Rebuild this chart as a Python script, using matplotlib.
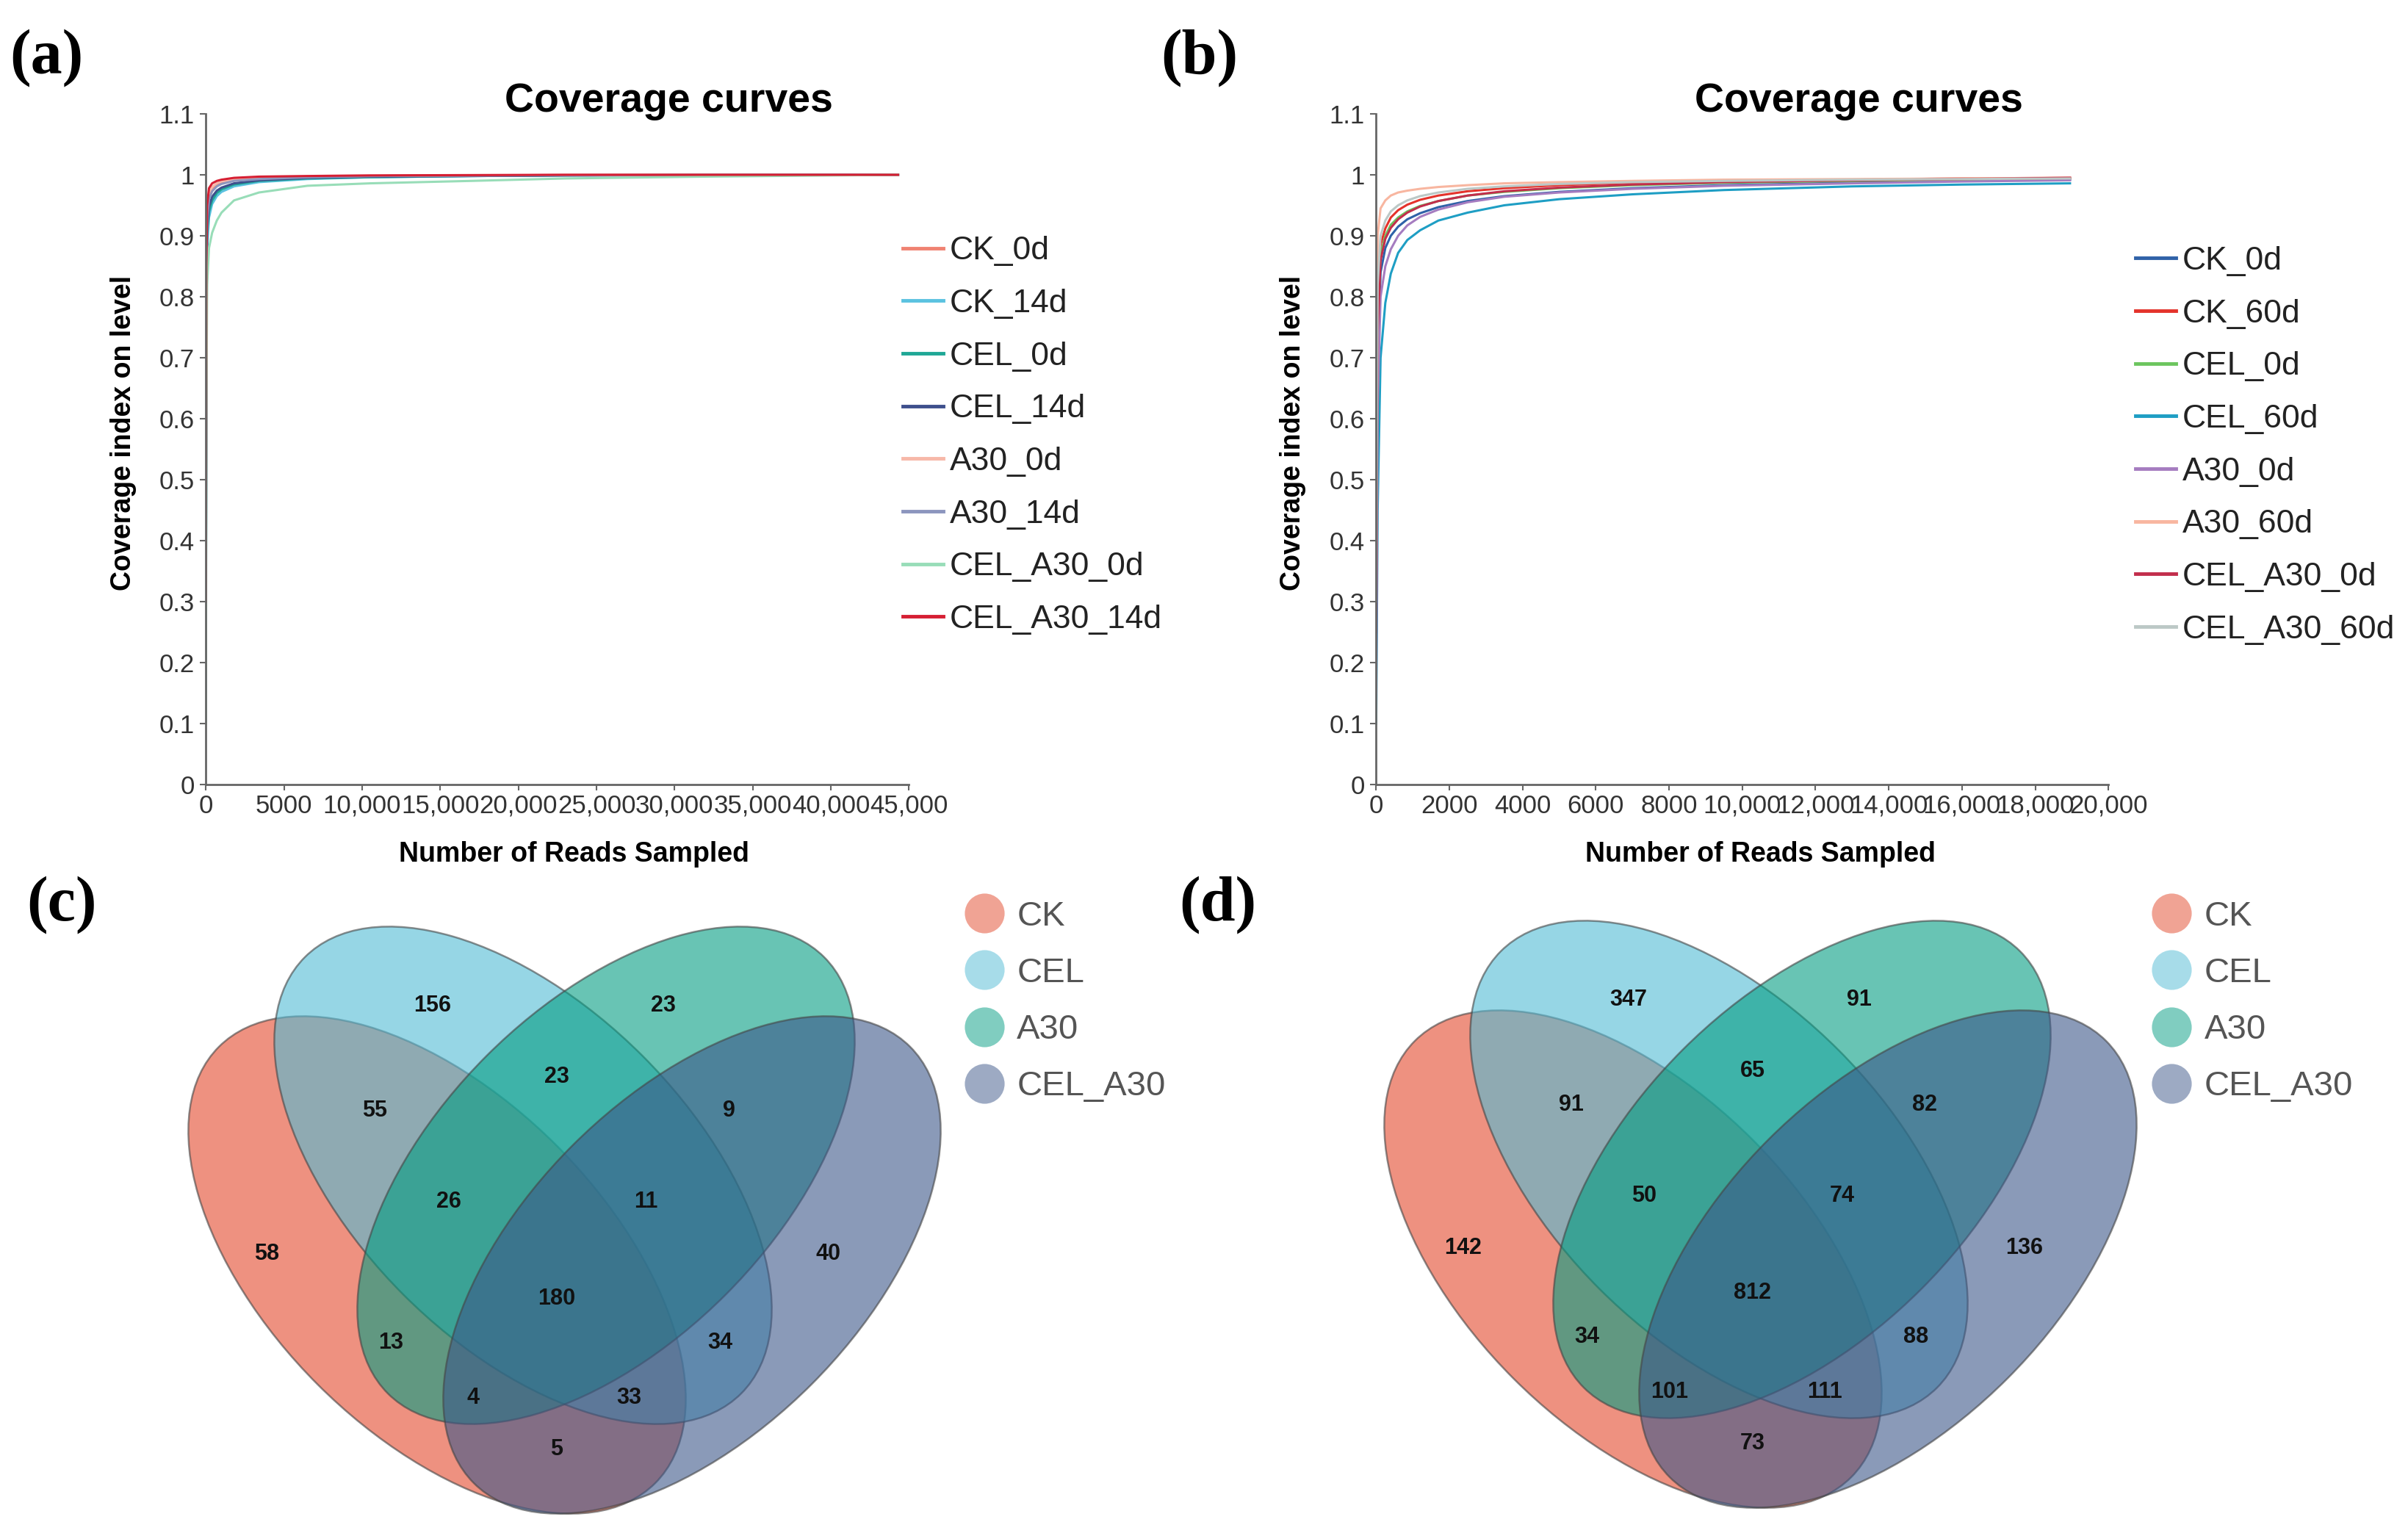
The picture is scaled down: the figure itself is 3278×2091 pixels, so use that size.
import matplotlib
matplotlib.use('Agg')
import matplotlib.pyplot as plt
from matplotlib.patches import Ellipse
from matplotlib.lines import Line2D

plt.rcParams['font.family'] = ['Liberation Sans', 'DejaVu Sans']

# ---- (a) coverage curves, 0d / 14d ----
reads_a = [0, 30, 80, 200, 400, 700, 1000, 1800, 3400, 6500, 10500, 17000, 23000, 32000, 44300]
a_ck_0d = [0.20, 0.80, 0.930, 0.965, 0.978, 0.984, 0.987, 0.991, 0.994, 0.996, 0.998, 0.999, 0.9995, 1.0, 1.0]
a_ck_14d = [0.15, 0.70, 0.880, 0.930, 0.952, 0.965, 0.972, 0.981, 0.988, 0.993, 0.996, 0.998, 0.999, 0.9995, 1.0]
a_cel_0d = [0.18, 0.75, 0.900, 0.940, 0.958, 0.970, 0.976, 0.984, 0.990, 0.994, 0.996, 0.998, 0.999, 0.9995, 1.0]
a_cel_14d = [0.20, 0.78, 0.910, 0.948, 0.964, 0.974, 0.979, 0.986, 0.991, 0.995, 0.997, 0.998, 0.999, 0.9995, 1.0]
a_a30_0d = [0.25, 0.85, 0.940, 0.970, 0.980, 0.986, 0.989, 0.992, 0.995, 0.997, 0.998, 0.999, 0.9995, 1.0, 1.0]
a_a30_14d = [0.22, 0.80, 0.925, 0.960, 0.973, 0.981, 0.985, 0.990, 0.993, 0.996, 0.998, 0.999, 0.9995, 1.0, 1.0]
a_cel_a30_0d = [0.10, 0.60, 0.820, 0.880, 0.905, 0.925, 0.938, 0.958, 0.971, 0.982, 0.986, 0.990, 0.994, 0.997, 1.0]
a_cel_a30_14d = [0.30, 0.85, 0.950, 0.978, 0.986, 0.990, 0.992, 0.995, 0.997, 0.998, 0.999, 0.9995, 1.0, 1.0, 1.0]

names_a = ['CK_0d', 'CK_14d', 'CEL_0d', 'CEL_14d', 'A30_0d', 'A30_14d',
           'CEL_A30_0d', 'CEL_A30_14d']
colors_a = ['#F08272', '#5BC2E0', '#1FA796', '#3E4F8C', '#F7B8A8', '#8C96BE',
            '#98DDB8', '#D61F33']

# ---- (b) coverage curves, 0d / 60d ----
reads_b = [0, 40, 120, 250, 400, 600, 850, 1200, 1700, 2500, 3500, 5000, 7000, 9500, 13000, 16000, 18950]
b_ck_0d = [0.20, 0.70, 0.840, 0.880, 0.900, 0.915, 0.927, 0.937, 0.947, 0.957, 0.965, 0.972, 0.978, 0.983, 0.987, 0.990, 0.992]
b_ck_60d = [0.30, 0.80, 0.885, 0.912, 0.930, 0.942, 0.951, 0.959, 0.966, 0.973, 0.978, 0.983, 0.987, 0.990, 0.992, 0.994, 0.995]
b_cel_0d = [0.25, 0.76, 0.870, 0.900, 0.918, 0.930, 0.940, 0.949, 0.957, 0.966, 0.972, 0.978, 0.983, 0.987, 0.990, 0.992, 0.994]
b_cel_60d = [0.10, 0.45, 0.700, 0.790, 0.838, 0.872, 0.893, 0.909, 0.925, 0.938, 0.950, 0.960, 0.968, 0.975, 0.981, 0.984, 0.986]
b_a30_0d = [0.15, 0.62, 0.800, 0.850, 0.878, 0.900, 0.917, 0.931, 0.943, 0.955, 0.964, 0.971, 0.977, 0.982, 0.986, 0.989, 0.991]
b_a30_60d = [0.40, 0.90, 0.945, 0.958, 0.966, 0.971, 0.974, 0.977, 0.980, 0.983, 0.986, 0.988, 0.990, 0.992, 0.993, 0.994, 0.995]
b_cel_a30_0d = [0.25, 0.74, 0.860, 0.895, 0.913, 0.927, 0.938, 0.948, 0.957, 0.966, 0.973, 0.979, 0.984, 0.988, 0.991, 0.993, 0.995]
b_cel_a30_60d = [0.30, 0.82, 0.900, 0.925, 0.940, 0.950, 0.958, 0.965, 0.971, 0.977, 0.981, 0.985, 0.988, 0.990, 0.992, 0.993, 0.994]

names_b = ['CK_0d', 'CK_60d', 'CEL_0d', 'CEL_60d', 'A30_0d', 'A30_60d',
           'CEL_A30_0d', 'CEL_A30_60d']
colors_b = ['#2F62A8', '#E4332B', '#6CC55E', '#1E9EC4', '#A57CC0', '#F8B6A0',
            '#C22E4C', '#BCC8C6']

yticks = [0, 0.1, 0.2, 0.3, 0.4, 0.5, 0.6, 0.7, 0.8, 0.9, 1.0, 1.1]
ytick_labels = ['0', '0.1', '0.2', '0.3', '0.4', '0.5', '0.6', '0.7', '0.8', '0.9', '1', '1.1']
xticks_a = [0, 5000, 10000, 15000, 20000, 25000, 30000, 35000, 40000, 45000]
xtick_labels_a = ['0', '5000', '10,000', '15,000', '20,000', '25,000', '30,000',
                  '35,000', '40,000', '45,000']
xticks_b = [0, 2000, 4000, 6000, 8000, 10000, 12000, 14000, 16000, 18000, 20000]
xtick_labels_b = ['0', '2000', '4000', '6000', '8000', '10,000', '12,000', '14,000',
                  '16,000', '18,000', '20,000']

# ---- (c)/(d) venn counts ----
venn_sets = ['CK', 'CEL', 'A30', 'CEL_A30']
venn_colors = ['#E3482B', '#50BBD5', '#039D82', '#3C5789']
# region order: CEL, A30, CK&CEL, CEL&A30, A30&CEL_A30, CK, CK&CEL&A30,
# CEL&A30&CEL_A30, CEL_A30, all, CK&A30, CEL&CEL_A30, CK&A30&CEL_A30,
# CK&CEL&CEL_A30, CK&CEL_A30
counts_c = [156, 23, 55, 23, 9, 58, 26, 11, 40, 180, 13, 34, 4, 33, 5]
counts_d = [347, 91, 91, 65, 82, 142, 50, 74, 136, 812, 34, 88, 101, 111, 73]

fig = plt.figure(figsize=(32.78, 20.91), dpi=100)


def coverage_panel(rect, reads, series, names, colors, xticks, xlabels, xmax, leg_xy):
    ax = fig.add_axes(rect)
    for y, n, c in zip(series, names, colors):
        ax.plot(reads, y, color=c, lw=2.2, label=n)
    ax.set_xlim(0, xmax)
    ax.set_ylim(0, 1.1)
    ax.set_xticks(xticks)
    ax.set_xticklabels(xlabels)
    ax.set_yticks(yticks)
    ax.set_yticklabels(ytick_labels)
    for s in ['top', 'right']:
        ax.spines[s].set_visible(False)
    for s in ['left', 'bottom']:
        ax.spines[s].set_color('#666666')
        ax.spines[s].set_linewidth(2)
    ax.tick_params(labelsize=25, colors='#666666', labelcolor='#333333',
                   length=6, width=1.5, pad=5)
    ax.tick_params(axis='x', pad=3)
    leg = ax.legend(loc='upper left', bbox_to_anchor=leg_xy, bbox_transform=fig.transFigure,
                    frameon=False, fontsize=32, borderaxespad=0, borderpad=0,
                    handlelength=1.23, handletextpad=0.2, labelspacing=0.69)
    for ln in leg.get_lines():
        ln.set_linewidth(3.5)
    for t in leg.get_texts():
        t.set_color('#222222')
    return ax


ax_a = coverage_panel([0.0855, 0.4892, 0.2920, 0.4367], reads_a,
                      [a_ck_0d, a_ck_14d, a_cel_0d, a_cel_14d, a_a30_0d, a_a30_14d,
                       a_cel_a30_0d, a_cel_a30_14d],
                      names_a, colors_a, xticks_a, xtick_labels_a, 45000, (0.3749, 0.8463))
ax_b = coverage_panel([0.5715, 0.4892, 0.3041, 0.4367], reads_b,
                      [b_ck_0d, b_ck_60d, b_cel_0d, b_cel_60d, b_a30_0d, b_a30_60d,
                       b_cel_a30_0d, b_cel_a30_60d],
                      names_b, colors_b, xticks_b, xtick_labels_b, 20000, (0.8868, 0.8398))

for cx, lx in [(0.2776, 0.2385), (0.772, 0.731)]:
    fig.text(cx, 0.934, 'Coverage curves', fontsize=40, fontweight='bold',
             ha='center', va='center')
    fig.text(lx, 0.444, 'Number of Reads Sampled', fontsize=27, fontweight='bold',
             ha='center', va='center')
for yx in [0.0513, 0.537]:
    fig.text(yx, 0.718, 'Coverage index on level', fontsize=27, fontweight='bold',
             rotation=90, ha='center', va='center')

# venn layout, pixel units relative to the diagram centre (y up)
ell_centers = [(-173.5, -122), (-56.5, 0), (56.5, 0), (173.5, -122)]
ell_angles = [-45, -45, 45, 45]
label_pos = [(-180, 231), (134, 231), (-258, 88), (-11, 134), (224, 88),
             (-405, -107), (-158, -36), (111, -36), (359, -107), (-11, -168),
             (-236, -228), (212, -228), (-124, -303), (88, -303), (-11, -373)]


def venn_panel(left_px, centre_y_px, counts, leg_xy):
    # axes spans 1060 x 851 px of the figure, one data unit = one pixel
    ax = fig.add_axes([left_px / 3278, 0, 1060 / 3278, 851 / 2091])
    for (cx, cy), ang, col in zip(ell_centers, ell_angles, venn_colors):
        ax.add_patch(Ellipse((cx, cy), 840, 460, angle=ang, facecolor=col, alpha=0.6,
                             edgecolor='#444444', lw=1.8, clip_on=False))
    for (x, y), n in zip(label_pos, counts):
        ax.text(x, y, str(n), fontsize=22, fontweight='bold', ha='center', va='center',
                color='#111111')
    ax.set_xlim(-528.5, 531.5)
    ax.set_ylim(centre_y_px - 2091, centre_y_px - 1240)
    ax.axis('off')
    handles = [Line2D([], [], marker='o', ls='', markersize=39, color=c, alpha=0.5,
                      markeredgewidth=0) for c in venn_colors]
    leg = ax.legend(handles, venn_sets, loc='upper left', bbox_to_anchor=leg_xy,
                    bbox_transform=fig.transFigure, frameon=False, fontsize=34,
                    borderaxespad=0, borderpad=0, handlelength=1.2, handletextpad=0.35,
                    labelspacing=0.7)
    for t in leg.get_texts():
        t.set_color('#555555')
    return ax


venn_panel(240, 1600, counts_c, (0.400, 0.4137))
venn_panel(1868, 1592, counts_d, (0.8931, 0.4137))

for x, y, lab in [(0.004, 0.962, '(a)'), (0.482, 0.962, '(b)'),
                  (0.011, 0.411, '(c)'), (0.4897, 0.411, '(d)')]:
    fig.text(x, y, lab, fontsize=62, fontweight='bold', family='Liberation Serif',
             ha='left', va='center')

fig.savefig('out.png', dpi=100, facecolor='white')
